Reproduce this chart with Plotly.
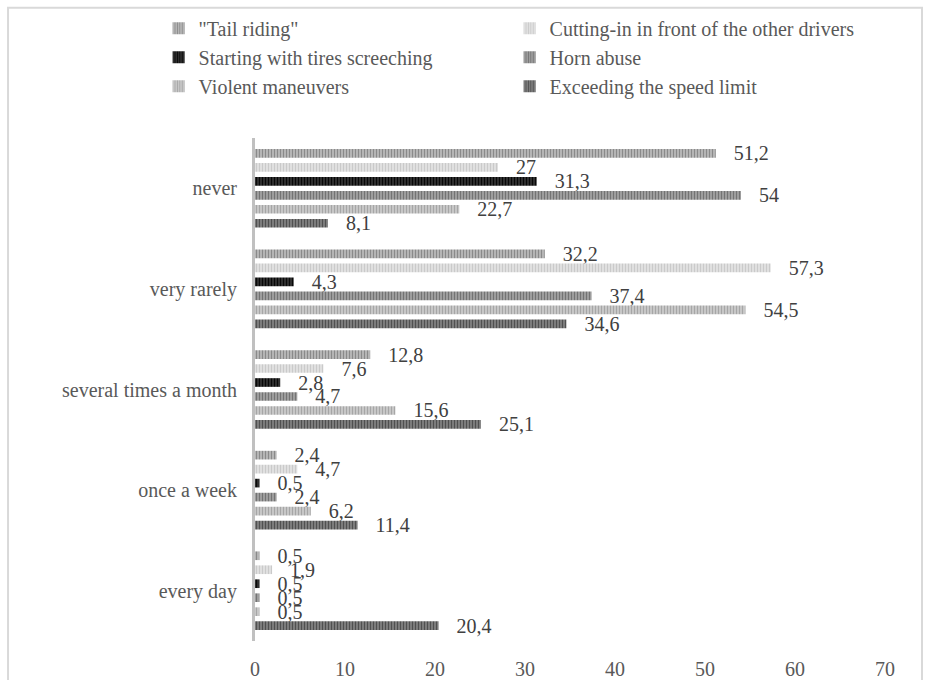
import plotly.graph_objects as go

# Frequency categories (top to bottom) and the share of respondents (%) per behaviour
categories = ["never", "very rarely", "several times a month", "once a week", "every day"]

tail_riding = [51.2, 32.2, 12.8, 2.4, 0.5]
cutting_in = [27, 57.3, 7.6, 4.7, 1.9]
tires_screeching = [31.3, 4.3, 2.8, 0.5, 0.5]
horn_abuse = [54, 37.4, 4.7, 2.4, 0.5]
violent_maneuvers = [22.7, 54.5, 15.6, 6.2, 0.5]
speeding = [8.1, 34.6, 25.1, 11.4, 20.4]

series_names = [
    '"Tail riding"',
    "Cutting-in in front of the other drivers",
    "Starting with tires screeching",
    "Horn abuse",
    "Violent maneuvers",
    "Exceeding the speed limit",
]
series_values = [tail_riding, cutting_in, tires_screeching, horn_abuse, violent_maneuvers, speeding]

# (background, stripe) greys for the narrow vertical pattern fill
fills = [
    ("#c4c4c4", "#8a8a8a"),
    ("#e8e8e8", "#cacaca"),
    ("#3a3a3a", "#080808"),
    ("#ababab", "#737373"),
    ("#d2d2d2", "#a6a6a6"),
    ("#8a8a8a", "#505050"),
]

FONT = "Liberation Serif, Times New Roman, serif"
NB = "\u00a0"


def fmt(v):
    return f"{v:g}".replace(".", ",")


fig = go.Figure()
for name, vals, (bg, fg) in zip(series_names, series_values, fills):
    fig.add_trace(go.Bar(
        name=name,
        y=categories,
        x=vals,
        orientation="h",
        marker=dict(
            color=bg,
            line=dict(width=0),
            pattern=dict(shape="|", fgcolor=fg, bgcolor=bg, size=3, solidity=0.5, fillmode="replace"),
        ),
        text=[NB * 3 + fmt(v) for v in vals],
        textposition="outside",
        constraintext="none",
        cliponaxis=False,
        textfont=dict(family=FONT, size=20, color="#404040"),
        hoverinfo="x+y+name",
    ))

fig.update_layout(
    width=929,
    height=680,
    barmode="group",
    bargap=0.166,
    bargroupgap=0.38,
    plot_bgcolor="white",
    paper_bgcolor="white",
    margin=dict(l=255, r=44, t=138, b=39, autoexpand=False),
    font=dict(family=FONT, size=20, color="#595959"),
    legend=dict(
        orientation="h",
        x=-0.153,
        xanchor="left",
        y=1.257,
        yanchor="top",
        entrywidth=306,
        font=dict(family=FONT, size=20, color="#595959"),
        itemwidth=30,
        traceorder="normal",
        bgcolor="rgba(0,0,0,0)",
    ),
    xaxis=dict(
        range=[0, 70],
        dtick=10,
        showgrid=False,
        zeroline=False,
        showline=False,
        ticks="",
        automargin=False,
        ticklabelstandoff=14,
        tickfont=dict(family=FONT, size=20, color="#595959"),
    ),
    yaxis=dict(
        autorange="reversed",
        showgrid=False,
        zeroline=False,
        showline=True,
        linecolor="#c0c0c0",
        linewidth=3,
        ticks="",
        automargin=False,
        ticklabelstandoff=11,
        tickfont=dict(family=FONT, size=20, color="#595959"),
    ),
    shapes=[
        dict(
            type="rect", xref="paper", yref="paper",
            x0=-0.392, x1=1.0587, y0=-0.12, y1=1.259,
            line=dict(color="#d9d9d9", width=2),
            fillcolor="rgba(0,0,0,0)",
            layer="below",
        )
    ],
)

fig.write_html("out.html")
